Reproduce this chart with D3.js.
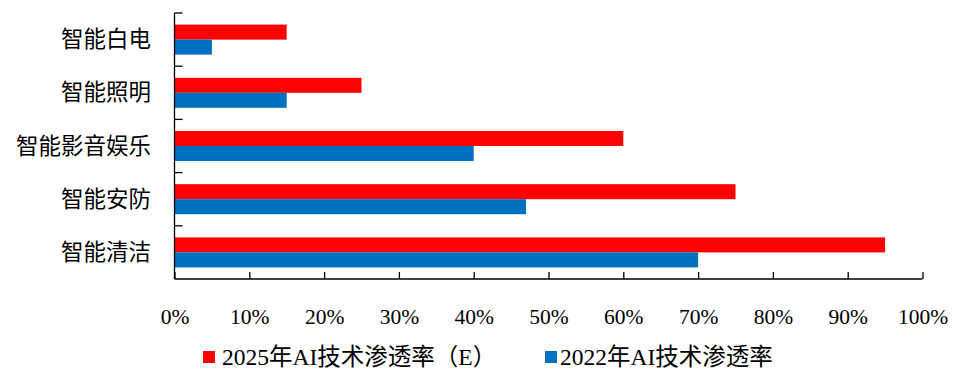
<!DOCTYPE html>
<html><head><meta charset="utf-8">
<script src="https://cdn.jsdelivr.net/npm/d3@7"></script>
<style>body{margin:0;background:#fff;}svg{display:block;}</style>
</head><body>
<svg id="c" width="962" height="370"></svg>
<script>
const categories = ["智能白电", "智能照明", "智能影音娱乐", "智能安防", "智能清洁"];
const seriesNames = ["2025年AI技术渗透率（E）", "2022年AI技术渗透率"];
const values2025 = [15, 25, 60, 75, 95];
const values2022 = [5, 15, 40, 47, 70];
const xTicks = [0, 10, 20, 30, 40, 50, 60, 70, 80, 90, 100];
const colors = ["#FF0000", "#0070C0"];

const serif = "'Liberation Serif','Times New Roman','Noto Sans CJK SC',serif";
const svg = d3.select("#c");
const plotLeft = 174.5, plotRight = 922.5, plotTop = 13, plotBottom = 279;

const x = d3.scaleLinear().domain([0, 100]).range([plotLeft, plotRight]);
const y0 = d3.scaleBand().domain(categories).range([plotTop, plotBottom]).paddingInner(0).paddingOuter(0);
const bw = y0.bandwidth();
const y1 = d3.scaleBand().domain(seriesNames).range([(bw - 30) / 2, (bw + 30) / 2]).padding(0);

const series = [values2025, values2022];
series.forEach((vals, si) => {
  svg.append("g").selectAll("rect").data(categories).join("rect")
    .attr("x", x(0))
    .attr("y", (d) => y0(d) + y1(seriesNames[si]))
    .attr("width", (d, i) => x(vals[i]) - x(0))
    .attr("height", y1.bandwidth())
    .attr("fill", colors[si]);
});

// x axis
const xAxis = d3.axisBottom(x).tickValues(xTicks).tickSize(-7).tickPadding(30)
  .tickFormat(d => d + "%");
const gx = svg.append("g").attr("transform", `translate(0,${plotBottom})`).call(xAxis);
gx.select(".domain").attr("stroke", "#000").attr("stroke-width", 1.3).attr("d", `M${plotLeft},0H${plotRight}`);
gx.selectAll(".tick line").attr("stroke", "#000").attr("stroke-width", 1.3);
gx.selectAll(".tick text").attr("font-family", serif).attr("font-size", 21.5).attr("fill", "#000");

// y axis
const gy = svg.append("g").attr("transform", `translate(${plotLeft},0)`);
gy.append("line").attr("x1", 0).attr("x2", 0).attr("y1", plotTop).attr("y2", plotBottom)
  .attr("stroke", "#000").attr("stroke-width", 1.3);
gy.selectAll("line.tk").data(categories).join("line").attr("class", "tk")
  .attr("x1", 0).attr("x2", 8).attr("y1", d => y0(d)).attr("y2", d => y0(d))
  .attr("stroke", "#000").attr("stroke-width", 1.3);
svg.append("g").selectAll("text").data(categories).join("text")
  .attr("x", 151).attr("y", d => y0(d) + bw / 2)
  .attr("text-anchor", "end").attr("dominant-baseline", "central")
  .attr("font-family", serif).attr("font-size", 22.5).attr("fill", "#000")
  .text(d => d);

// legend
const legendX = [203, 545];
const lg = svg.append("g");
seriesNames.forEach((s, i) => {
  lg.append("rect").attr("x", legendX[i]).attr("y", 351).attr("width", 12).attr("height", 12).attr("fill", colors[i]);
  lg.append("text").attr("x", legendX[i] + (i === 0 ? 19 : 15)).attr("y", 365)
    .attr("font-family", serif).attr("font-size", 23.5).attr("fill", "#000").text(s);
});
</script>
</body></html>
